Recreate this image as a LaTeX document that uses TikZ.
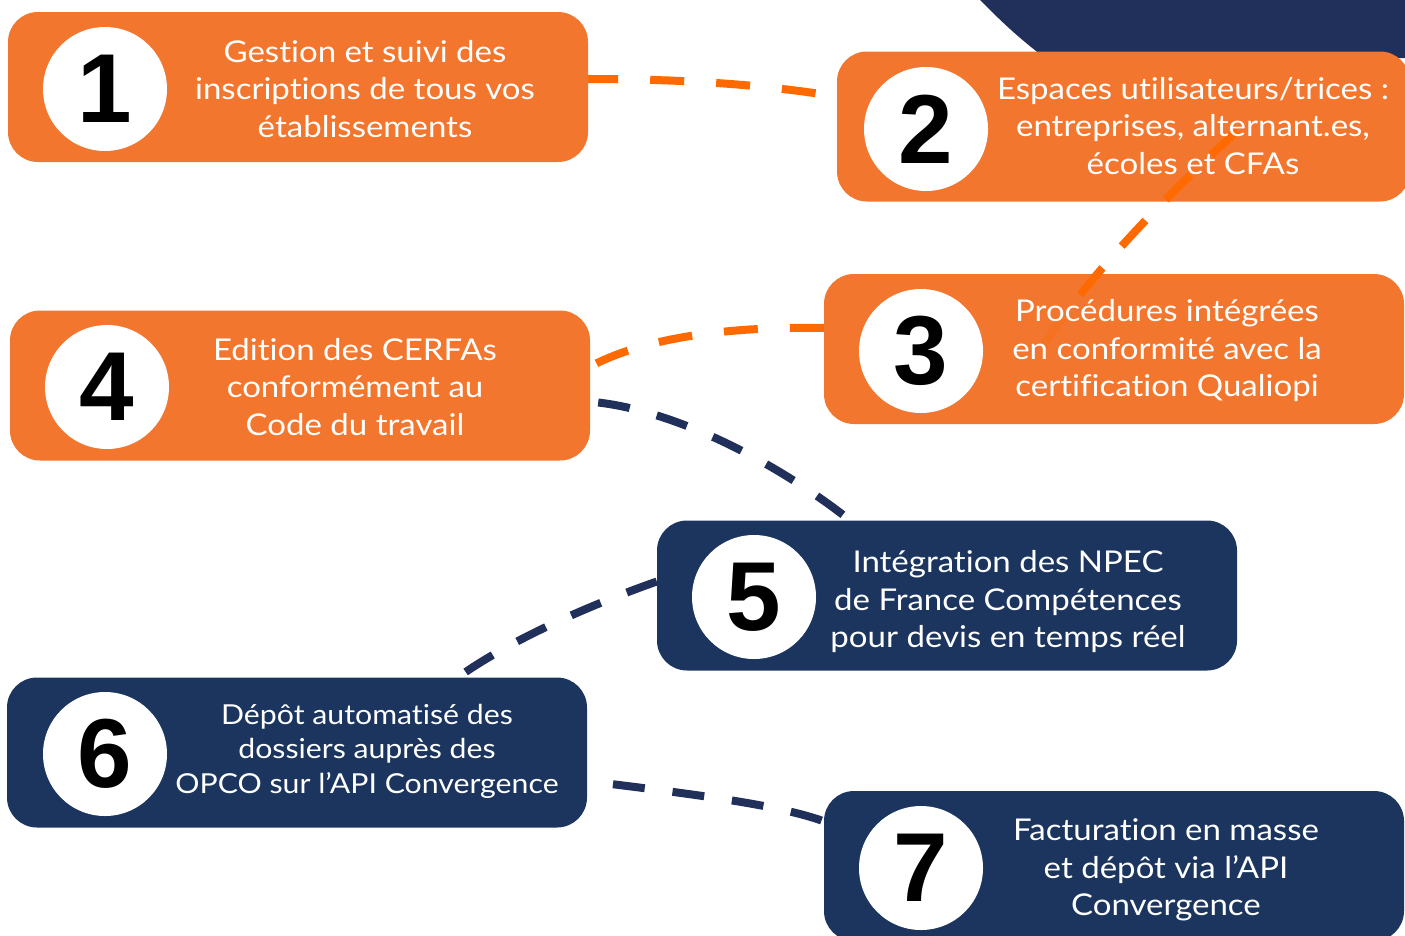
\documentclass[tikz,border=0pt]{standalone}
\usepackage{fontspec}
\setmainfont{Lato}[FakeStretch=1.1, Ligatures=NoCommon]
\newfontfamily\digitfont{Liberation Sans}
\usetikzlibrary{backgrounds,calc}
\definecolor{boxorange}{HTML}{F2762E}
\definecolor{dashorange}{HTML}{FF6A00}
\definecolor{boxnavy}{HTML}{1B355F}
\definecolor{navyline}{HTML}{21305A}
\begin{document}
\begin{tikzpicture}[x=1pt,y=-1pt,
  card/.style={rectangle, rounded corners=30pt, fill=#1, minimum width=580pt, minimum height=150pt, inner sep=0pt},
  numcirc/.style={circle, fill=white, minimum size=124pt, inner sep=0pt, text=black,
    font=\digitfont\bfseries\fontsize{98}{98}\selectfont},
  label/.style={text=white, align=center, inner sep=0pt, font=\fontsize{30}{37.5}\selectfont},
  odash/.style={draw=dashorange, line width=8pt, dash pattern=on 34pt off 32pt},
  ndash/.style={draw=navyline, line width=8pt, dash pattern=on 32pt off 28pt}]
\useasboundingbox (0,0) rectangle (1405,935);

% boxes
\node[card=boxorange] (b1) at (298,87) {};
\node[card=boxorange, minimum width=573pt] (b2) at (1123.5,126.5) {};
\node[card=boxorange] (b3) at (1114,349) {};
\node[card=boxorange] (b4) at (300,385.5) {};
\node[card=boxnavy] (b5) at (947,595.5) {};
\node[card=boxnavy] (b6) at (297,752.5) {};
\node[card=boxnavy] (b7) at (1114,866) {};

% background: corner shape and connectors
\begin{scope}[on background layer]
  \fill[navyline] (980,0) .. controls (1000,20) and (1015,35) .. (1045,58) -- (1405,58) -- (1405,0) -- cycle;
  \draw[odash] ($(b1.east)+(-4,-8)$) .. controls (680,79) and (760,84) .. ($(b2.west)+(0,-30)$);
  \draw[odash] ($(b3.west)+(0,-21)$) .. controls (720,326) and (640,340) .. ($(b4.east)+(0,-19)$);
  \draw[ndash] ($(b4.east)+(8,17)$) .. controls (680,412) and (780,465) .. ($(b5.north)+(-97,0)$);
  \draw[ndash] ($(b5.west)+(0,-14)$) .. controls (590,605) and (510,640) .. ($(b6.north)+(161,0)$);
  \draw[ndash, dash phase=30pt] ($(b6.east)+(-4,28)$) .. controls (700,795) and (780,805) .. ($(b7.west)+(2,-44)$);
\end{scope}

% connector 2 -> 3 drawn over the boxes
\coordinate (s23) at (1237,131);
\coordinate (e23) at (1040,352);
\begin{scope}
  \clip (0,0) rectangle (1405,305);
  \draw[odash, dash pattern=on 35pt off 29pt] (s23) .. controls (1140,220) and (1070,300) .. (e23);
\end{scope}
\begin{scope}
  \clip (0,305) rectangle (1405,935);
  \draw[odash, dash pattern=on 35pt off 29pt, opacity=0.25] (s23) .. controls (1140,220) and (1070,300) .. (e23);
\end{scope}

% number circles
\node[numcirc] (c1) at (105,89) {1};
\node[numcirc] (c2) at (926,129) {2};
\node[numcirc] (c3) at (921,351) {3};
\node[numcirc] (c4) at (107,387) {4};
\node[numcirc] (c5) at (754,597) {5};
\node[numcirc] (c6) at (105,754) {6};
\node[numcirc] (c7) at (921,868) {7};

% texts
\node[label] (t1) at (365,89) {Gestion et suivi des\\inscriptions de tous vos\\établissements};
\node[label] (t2) at (1193,126) {Espaces utilisateurs/trices :\\entreprises, alternant.es,\\écoles et CFAs};
\node[label] (t3) at (1167,351) {Procédures intégrées\\en conformité avec la\\certification Qualiopi};
\node[label] (t4) at (355,387) {Edition des CERFAs\\conformément au\\Code du travail};
\node[label] (t5) at (1008,602) {Intégration des NPEC\\de France Compétences\\pour devis en temps réel};
\node[label, font=\fontsize{27.5}{34.5}\selectfont] (t6) at (367,751) {Dépôt automatisé des\\dossiers auprès des\\OPCO sur l’API Convergence};
\node[label] (t7) at (1166,870) {Facturation en masse\\et dépôt via l’API\\Convergence};
\end{tikzpicture}
\end{document}
